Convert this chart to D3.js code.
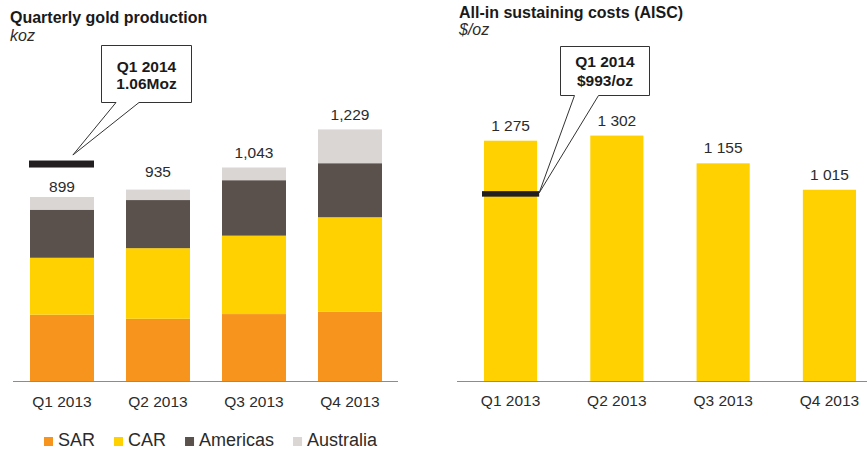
<!DOCTYPE html>
<html>
<head>
<meta charset="utf-8">
<script src="https://cdn.jsdelivr.net/npm/d3@7"></script>
<style>
  html, body { margin: 0; padding: 0; background: #fff; }
  svg { display: block; font-family: "Liberation Sans", Arial, Helvetica, sans-serif; }
</style>
</head>
<body>
<svg id="chart" width="867" height="452"></svg>
<script>
// ---- Data ----
const quarters = ["Q1 2013", "Q2 2013", "Q3 2013", "Q4 2013"];
const regions = ["SAR", "CAR", "Americas", "Australia"];
const sarProduction = [324, 304, 327, 339];
const carProduction = [278, 345, 383, 461];
const americasProduction = [235, 235, 271, 264];
const australiaProduction = [62, 51, 62, 165];
const totalProduction = [899, 935, 1043, 1229];
const aiscValues = [1275, 1302, 1155, 1015];
const q1_2014Production = 1060;   // koz
const q1_2014Aisc = 993;          // $/oz

// ---- Styles ----
const regionColors = { SAR: "#F7941E", CAR: "#FFD100", Americas: "#5B514C", Australia: "#DAD6D4" };
const aiscColor = "#FFD100";
const markerColor = "#231F20";
const textColor = "#2b2b2b";
const axisColor = "#8c8c8c";
// vertical gap between each production total and its bar top
const totalLabelGap = [5, 13, 10, 9];

const svg = d3.select("#chart");

const rows = quarters.map((q, i) => ({
  quarter: q,
  SAR: sarProduction[i],
  CAR: carProduction[i],
  Americas: americasProduction[i],
  Australia: australiaProduction[i],
  total: totalProduction[i]
}));

// ================= Left panel: quarterly gold production =================
const left = svg.append("g");
const xL = d3.scaleBand().domain(quarters).range([14, 398]).paddingInner(1 / 3).paddingOuter(1 / 6);
const yL = d3.scaleLinear().domain([0, 1300]).range([381, 114.9]);

left.append("text").attr("x", 10).attr("y", 23)
  .attr("font-size", 16).attr("font-weight", "bold").attr("fill", "#1a1a1a")
  .text("Quarterly gold production");
left.append("text").attr("x", 10).attr("y", 41)
  .attr("font-size", 16).attr("font-style", "italic").attr("fill", textColor)
  .text("koz");

const stacked = d3.stack().keys(regions)(rows);
left.selectAll("g.layer").data(stacked).join("g")
  .attr("class", "layer")
  .attr("fill", d => regionColors[d.key])
  .selectAll("rect").data(d => d).join("rect")
  .attr("x", d => xL(d.data.quarter))
  .attr("width", xL.bandwidth())
  .attr("y", d => yL(d[1]))
  .attr("height", d => yL(d[0]) - yL(d[1]));

const fmtComma = d3.format(",");
left.selectAll("text.total").data(rows).join("text")
  .attr("class", "total")
  .attr("x", d => xL(d.quarter) + xL.bandwidth() / 2)
  .attr("y", (d, i) => yL(d.total) - totalLabelGap[i])
  .attr("text-anchor", "middle").attr("font-size", 15.5).attr("fill", textColor)
  .text(d => fmtComma(d.total));

const axL = left.append("g").attr("transform", "translate(0,381)")
  .call(d3.axisBottom(xL).tickSize(0).tickPadding(0));
axL.select(".domain").attr("stroke", axisColor).attr("d", "M13,0.5H398");
axL.selectAll("text").attr("font-size", 15.5).attr("fill", textColor)
  .attr("font-family", null).attr("dy", null).attr("y", 25.5);

// Q1 2014 production marker
const mL = { x0: xL(quarters[0]) - 1, x1: xL(quarters[0]) + xL.bandwidth(), y: yL(q1_2014Production) };
left.append("rect").attr("x", mL.x0).attr("y", mL.y - 3.5)
  .attr("width", mL.x1 - mL.x0).attr("height", 7).attr("fill", markerColor);

function callout(g, box, baseL, baseR, tip, lines) {
  const p = d3.path();
  p.moveTo(box.x0, box.y0);
  p.lineTo(box.x1, box.y0);
  p.lineTo(box.x1, box.y1);
  p.lineTo(baseR, box.y1);
  p.lineTo(tip[0], tip[1]);
  p.lineTo(baseL, box.y1);
  p.lineTo(box.x0, box.y1);
  p.closePath();
  g.append("path").attr("d", p.toString())
    .attr("fill", "#fff").attr("stroke", "#333").attr("stroke-width", 1);
  const cx = (box.x0 + box.x1) / 2;
  lines.forEach(t => {
    g.append("text").attr("x", cx).attr("y", t.y)
      .attr("text-anchor", "middle").attr("font-size", 15.5)
      .attr("font-weight", "bold").attr("fill", "#1a1a1a").text(t.text);
  });
}

callout(left, { x0: 101.5, y0: 45.5, x1: 191.5, y1: 102.5 }, 116, 139,
  [xL(quarters[0]) + xL.bandwidth() * 0.67, mL.y - 9],
  [{ text: "Q1 2014", y: 72 }, { text: (q1_2014Production / 1000).toFixed(2) + "Moz", y: 89 }]);

// Legend
let lx = 44;
regions.forEach(r => {
  left.append("rect").attr("x", lx).attr("y", 437).attr("width", 9).attr("height", 9)
    .attr("fill", regionColors[r]);
  const t = left.append("text").attr("x", lx + 14).attr("y", 445.5)
    .attr("font-size", 18).attr("fill", textColor).text(r);
  lx += 14 + t.node().getComputedTextLength() + 19;
});

// ================= Right panel: all-in sustaining costs =================
const right = svg.append("g");
const xR = d3.scaleBand().domain(quarters).range([457, 883]).paddingInner(0.5).paddingOuter(0.254);
const yR = d3.scaleLinear().domain([0, 1400]).range([381.3, 117.1]);

right.append("text").attr("x", 459).attr("y", 17.5)
  .attr("font-size", 16).attr("font-weight", "bold").attr("fill", "#1a1a1a")
  .text("All-in sustaining costs (AISC)");
right.append("text").attr("x", 459).attr("y", 35)
  .attr("font-size", 16).attr("font-style", "italic").attr("fill", textColor)
  .text("$/oz");

right.selectAll("rect.aisc").data(aiscValues).join("rect")
  .attr("class", "aisc")
  .attr("x", (d, i) => xR(quarters[i]))
  .attr("width", xR.bandwidth())
  .attr("y", d => yR(d))
  .attr("height", d => yR(0) - yR(d))
  .attr("fill", aiscColor);

const fmtSpace = d3.formatLocale({ decimal: ".", thousands: " ", grouping: [3], currency: ["$", ""] }).format(",");
right.selectAll("text.val").data(aiscValues).join("text")
  .attr("class", "val")
  .attr("x", (d, i) => xR(quarters[i]) + xR.bandwidth() / 2)
  .attr("y", d => yR(d) - 10)
  .attr("text-anchor", "middle").attr("font-size", 15.5).attr("fill", textColor)
  .text(d => fmtSpace(d));

const axR = right.append("g").attr("transform", "translate(0,381)")
  .call(d3.axisBottom(xR).tickSize(0).tickPadding(0));
axR.select(".domain").attr("stroke", axisColor).attr("d", "M457,0.5H867");
axR.selectAll("text").attr("font-size", 15.5).attr("fill", textColor)
  .attr("font-family", null).attr("dy", null).attr("y", 25);

// Q1 2014 AISC marker
const mR = { x0: xR(quarters[0]) - 2, x1: xR(quarters[0]) + xR.bandwidth() + 2, y: yR(q1_2014Aisc) };
right.append("rect").attr("x", mR.x0).attr("y", mR.y - 2.75)
  .attr("width", mR.x1 - mR.x0).attr("height", 5.5).attr("fill", markerColor);

callout(right, { x0: 560.5, y0: 46.5, x1: 649.5, y1: 95.5 }, 574.5, 598.5,
  [mR.x1, mR.y - 1],
  [{ text: "Q1 2014", y: 67 }, { text: "$" + q1_2014Aisc + "/oz", y: 85.5 }]);
</script>
</body>
</html>
